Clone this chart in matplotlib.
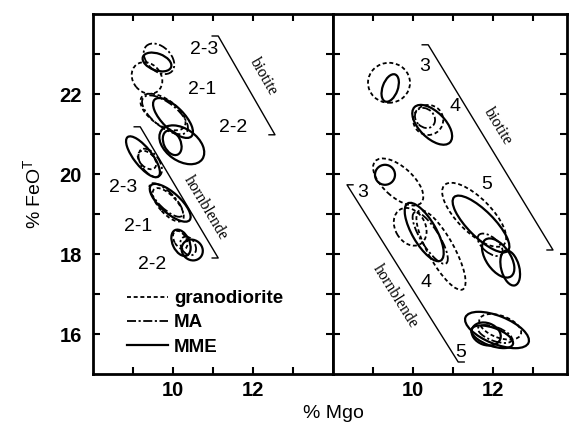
import numpy as np
import matplotlib
matplotlib.use("Agg")
import matplotlib.pyplot as plt
from matplotlib.patches import Ellipse
from matplotlib.lines import Line2D

plt.rcParams['font.family'] = ['Liberation Sans', 'DejaVu Sans']

# ellipse fields: centre x, centre y, width, height, angle, rock type
# left panel (samples 2-1, 2-2, 2-3)
left_ellipses = [
    # biotite 2-3
    (9.60, 22.80, 0.75, 0.42, -20, 'MME'),
    (9.65, 22.88, 0.90, 0.60, -45, 'MA'),
    (9.35, 22.40, 0.85, 0.70, -50, 'granodiorite'),
    # biotite 2-1
    (9.75, 21.55, 1.30, 0.65, -35, 'granodiorite'),
    (9.80, 21.48, 1.38, 0.60, -38, 'MA'),
    (10.00, 21.40, 1.30, 0.55, -45, 'MME'),
    # biotite 2-2
    (10.22, 20.73, 1.25, 0.80, -35, 'MME'),
    (9.98, 20.78, 0.65, 0.42, -65, 'MME'),
    # hornblende 2-3
    (9.25, 20.43, 1.25, 0.45, -52, 'MME'),
    (9.43, 20.28, 0.80, 0.45, -55, 'MA'),
    (9.35, 20.35, 0.55, 0.35, -45, 'granodiorite'),
    # hornblende 2-1
    (9.93, 19.28, 1.30, 0.50, -42, 'MME'),
    (9.83, 19.35, 1.12, 0.40, -45, 'MA'),
    (9.88, 19.23, 1.05, 0.45, -48, 'granodiorite'),
    # hornblende 2-2
    (10.20, 18.28, 0.70, 0.42, -65, 'MME'),
    (10.48, 18.10, 0.55, 0.50, -40, 'MME'),
    (10.38, 18.20, 0.50, 0.35, -60, 'MA'),
    (10.18, 18.35, 0.50, 0.30, -60, 'granodiorite'),
]

# right panel (samples 3, 4, 5)
right_ellipses = [
    # biotite 3
    (9.40, 22.28, 1.05, 1.00, 0, 'granodiorite'),
    (9.43, 22.15, 0.72, 0.38, 70, 'MME'),
    # biotite 4
    (10.48, 21.23, 1.25, 0.65, -45, 'MME'),
    (10.38, 21.35, 0.75, 0.75, 0, 'granodiorite'),
    (10.30, 21.40, 0.55, 0.45, -45, 'MA'),
    # hornblende 3
    (9.30, 19.98, 0.50, 0.50, 0, 'MME'),
    (9.63, 19.80, 1.55, 0.75, -42, 'granodiorite'),
    # hornblende 4
    (10.28, 18.55, 1.65, 0.60, -60, 'MME'),
    (9.93, 18.68, 1.00, 0.75, -60, 'granodiorite'),
    (10.70, 18.10, 2.25, 0.65, -61, 'granodiorite'),
    (10.43, 18.40, 1.50, 0.45, -58, 'MA'),
    # biotite 5
    (11.53, 18.98, 2.10, 0.85, -45, 'granodiorite'),
    (11.70, 18.75, 1.90, 0.65, -45, 'MME'),
    (12.13, 17.90, 1.12, 0.60, -55, 'MME'),
    (12.43, 17.65, 0.90, 0.45, -75, 'MME'),
    (11.93, 18.23, 0.75, 0.38, -40, 'MA'),
    # hornblende 5
    (12.10, 16.10, 1.70, 0.70, -22, 'MME'),
    (11.83, 16.00, 0.75, 0.55, -20, 'MME'),
    (12.18, 16.18, 1.10, 0.55, -20, 'granodiorite'),
    (11.98, 15.93, 1.10, 0.45, -20, 'MME'),
    (12.05, 16.00, 0.90, 0.35, -20, 'MA'),
]

left_labels = [(10.78, 23.10, '2-3'), (10.73, 22.10, '2-1'), (11.50, 21.15, '2-2'),
               (8.75, 19.65, '2-3'), (9.13, 18.68, '2-1'), (9.48, 17.73, '2-2')]
right_labels = [(10.30, 22.68, '3'), (11.05, 21.68, '4'), (11.85, 19.73, '5'),
                (8.73, 19.53, '3'), (10.33, 17.28, '4'), (11.20, 15.53, '5')]

# brackets: x0, y0, x1, y1, cap direction (-1 left, +1 right), name, text x, text y
left_brackets = [(11.13, 23.45, 12.55, 20.98, -1, 'biotite', 12.27, 22.43),
                 (9.18, 21.18, 11.13, 17.90, -1, 'hornblende', 10.82, 19.15)]
right_brackets = [(10.38, 23.23, 13.50, 18.10, -1, 'biotite', 12.12, 21.18),
                  (8.35, 19.73, 11.13, 15.30, 1, 'hornblende', 9.55, 16.93)]

rock_types = ['granodiorite', 'MA', 'MME']
line_styles = {'granodiorite': (0, (2.2, 1.5)),
               'MA': (0, (5, 1.4, 1.2, 1.4)),
               'MME': '-'}
line_widths = {'granodiorite': 1.3, 'MA': 1.3, 'MME': 1.6}

xticks = [9, 10, 11, 12, 13]
xticklabels = ['', '10', '', '12', '']
yticks = [16, 17, 18, 19, 20, 21, 22, 23]
yticklabels = ['16', '', '18', '', '20', '', '22', '']


def style_axis(ax, xlim):
    ax.set_xlim(*xlim)
    ax.set_ylim(15, 24)
    ax.set_xticks(xticks)
    ax.set_xticklabels(xticklabels)
    ax.set_yticks(yticks)
    ax.set_yticklabels(yticklabels)
    ax.tick_params(direction='in', length=5, width=1.5, top=True, right=True,
                   labelsize=14.5)
    ax.tick_params(axis='x', pad=5)
    ax.tick_params(axis='y', pad=8)
    for lab in ax.get_xticklabels() + ax.get_yticklabels():
        lab.set_fontweight('bold')
    for sp in ax.spines.values():
        sp.set_linewidth(2)


def draw_panel(ax, ellipses, labels, brackets):
    for cx, cy, w, h, ang, rock in ellipses:
        ax.add_patch(Ellipse((cx, cy), w, h, angle=ang, fill=False, color='black',
                             ls=line_styles[rock], lw=line_widths[rock]))
    for x, y, s in labels:
        ax.text(x, y, s, fontsize=14, ha='center', va='center')
    for x0, y0, x1, y1, cap, name, tx, ty in brackets:
        ax.plot([x0 + 0.15 * cap, x0, x1, x1 + 0.15 * cap], [y0, y0, y1, y1],
                color='black', lw=1.0)
        rot = np.degrees(np.arctan2(y1 - y0, x1 - x0))
        ax.text(tx, ty, name, fontsize=11.5, family='Liberation Serif',
                rotation=rot, ha='center', va='center', rotation_mode='anchor')


fig = plt.figure(figsize=(5.69, 4.24), dpi=100)
ax1 = fig.add_axes([93 / 569, 50 / 424, 240 / 569, 360 / 424])
ax2 = fig.add_axes([333 / 569, 50 / 424, 234 / 569, 360 / 424])

style_axis(ax1, (8, 14))
style_axis(ax2, (8, 13.85))
ax2.set_yticklabels([])

draw_panel(ax1, left_ellipses, left_labels, left_brackets)
draw_panel(ax2, right_ellipses, right_labels, right_brackets)

ax1.set_ylabel('% FeO$^\\mathregular{T}$', fontsize=14, labelpad=10)
fig.text(333 / 569, 2 / 424, '% Mgo', fontsize=14, ha='center', va='bottom')

handles = [Line2D([], [], color='black', ls=line_styles[r], lw=line_widths[r])
           for r in rock_types]
leg = ax1.legend(handles, rock_types, loc='center left', bbox_to_anchor=(0.142, 0.142),
                 frameon=False, handlelength=2.2, handletextpad=0.3,
                 labelspacing=0.38, borderaxespad=0, borderpad=0,
                 prop={'weight': 'bold', 'size': 13.5})

fig.savefig('out.png', dpi=100)
